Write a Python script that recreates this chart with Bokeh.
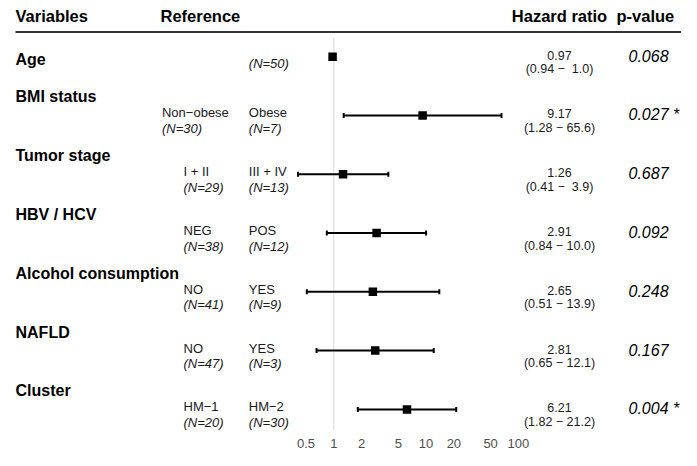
from bokeh.plotting import figure
from bokeh.models import Range1d, FixedTicker, ColumnDataSource
from bokeh.core.properties import value
from bokeh.embed import file_html
from bokeh.resources import INLINE

# ---------------- data ----------------
variables = ["Age", "BMI status", "Tumor stage", "HBV / HCV",
             "Alcohol consumption", "NAFLD", "Cluster"]
ref_levels = ["", "Non\u2212obese", "I + II", "NEG", "NO", "NO", "HM\u22121"]
ref_counts = [None, 30, 29, 38, 41, 47, 20]
cmp_levels = ["", "Obese", "III + IV", "POS", "YES", "YES", "HM\u22122"]
cmp_counts = [50, 7, 13, 12, 9, 3, 30]
hazard_ratio = [0.97, 9.17, 1.26, 2.91, 2.65, 2.81, 6.21]
ci_lower = [0.94, 1.28, 0.41, 0.84, 0.51, 0.65, 1.82]
ci_upper = [1.0, 65.6, 3.9, 10.0, 13.9, 12.1, 21.2]
p_values = [0.068, 0.027, 0.687, 0.092, 0.248, 0.167, 0.004]
tick_values = [0.5, 1, 2, 5, 10, 20, 50, 100]
tick_labels = ["0.5", "1", "2", "5", "10", "20", "50", "100"]
headers = ["Variables", "Reference", "Hazard ratio", "p-value"]

# ---------------- layout (canvas pixels) ----------------
W, H = 681, 450
BOTTOM = 16
X_ONE = 333.3      # canvas x of HR = 1
PX_DEC = 92.3      # pixels per decade
ROW0 = 56.7        # canvas y of first row
STEP = 59.33       # row spacing
FONT = "Liberation Sans"
NB = "\u00a0"


def xd(px):
    return 10 ** ((px - X_ONE) / PX_DEC)


def yd(py):
    return (py - ROW0) / STEP


n = len(variables)
rows = list(range(n))

p = figure(width=W, height=H, output_backend="svg", toolbar_location=None,
           x_axis_type="log",
           x_range=Range1d(xd(0), xd(W)),
           y_range=Range1d(yd(H - BOTTOM), yd(0)),
           y_axis_location=None,
           min_border_left=0, min_border_right=0, min_border_top=0,
           min_border_bottom=BOTTOM)
p.grid.visible = False
p.outline_line_color = None
p.background_fill_color = "white"
p.border_fill_color = "white"

ax = p.xaxis[0]
ax.ticker = FixedTicker(ticks=tick_values)
ax.major_label_overrides = {v: l for v, l in zip(tick_values, tick_labels)}
ax.axis_line_color = None
ax.major_tick_line_color = None
ax.minor_tick_line_color = None
ax.major_label_standoff = 2
ax.major_label_text_font = FONT
ax.major_label_text_font_size = "13px"
ax.major_label_text_color = "#4d4d4d"

# reference line at HR = 1
p.segment(x0=[1], x1=[1], y0=[yd(37)], y1=[yd(H - BOTTOM)],
          line_color="#d9d9d9", line_width=1)

# header rule
p.segment(x0=[xd(15)], x1=[xd(W)], y0=[yd(31.7)], y1=[yd(31.7)],
          line_color="#333333", line_width=2)

# confidence intervals
src = ColumnDataSource(dict(y=rows, hr=hazard_ratio, lo=ci_lower, hi=ci_upper))
p.segment(x0="lo", x1="hi", y0="y", y1="y", source=src,
          line_color="black", line_width=2)
p.rect(x=ci_lower + ci_upper, y=rows + rows, width=2, height=5,
       width_units="screen", height_units="screen",
       fill_color="black", line_color=None)
p.scatter(x="hr", y="y", source=src, marker="square", size=8.5,
          fill_color="black", line_color=None)


def txt(xs, ys, texts, offs, size, style="normal", align="left", color="#1a1a1a"):
    s = ColumnDataSource(dict(x=xs, y=ys, t=texts, o=offs))
    p.text(x="x", y="y", text="t", y_offset="o", source=s,
           text_font=value(FONT), text_font_size=size, text_font_style=style,
           text_align=align, text_baseline="middle", text_color=color)


HR_X = 559
P_HEAD_X = 616
P_X = 628

# header texts
hx = [xd(15), xd(160), xd(HR_X), xd(P_HEAD_X)]
ha = ["left", "left", "center", "left"]
for h, x, a in zip(headers, hx, ha):
    txt([x], [yd(16)], [h], [0], "16.5px", "bold", a, "black")

# variable names
is_factor = [bool(l) for l in ref_levels]
txt([xd(15)] * n, rows, variables,
    [-18.5 if f else 2.5 for f in is_factor], "16px", "bold", "left", "black")

# reference level + N
ref_x = [xd(183 - max(0, 0.56 * 13 * len(l) - 44)) for l in ref_levels]
txt(ref_x, rows, ref_levels, [-2.5] * n, "13px")
txt(ref_x, rows, ["" if c is None else f"(N={c})" for c in ref_counts],
    [13] * n, "13px", "italic")

# comparison level + N
txt([xd(248.3)] * n, rows, cmp_levels, [-2.5] * n, "13px")
txt([xd(248.3)] * n, rows, [f"(N={c})" for c in cmp_counts],
    [13 if f else 6.5 for f in is_factor], "13px", "italic")

# hazard ratio text
txt([xd(HR_X)] * n, rows, [f"{h:.2f}" for h in hazard_ratio], [-1.5] * n,
    "12.5px", "normal", "center")
txt([xd(HR_X)] * n, rows,
    [f"({l:.2f} \u2212 {u:4.1f})".replace(" ", NB) for l, u in zip(ci_lower, ci_upper)],
    [12.5] * n, "12.5px", "normal", "center")

# p-values
txt([xd(P_X)] * n, rows,
    [f"{v:.3f}" + (" *" if v < 0.05 else "") for v in p_values],
    [-1] * n, "16px", "italic", "left", "black")

open("out.html", "w").write(file_html(p, INLINE))
